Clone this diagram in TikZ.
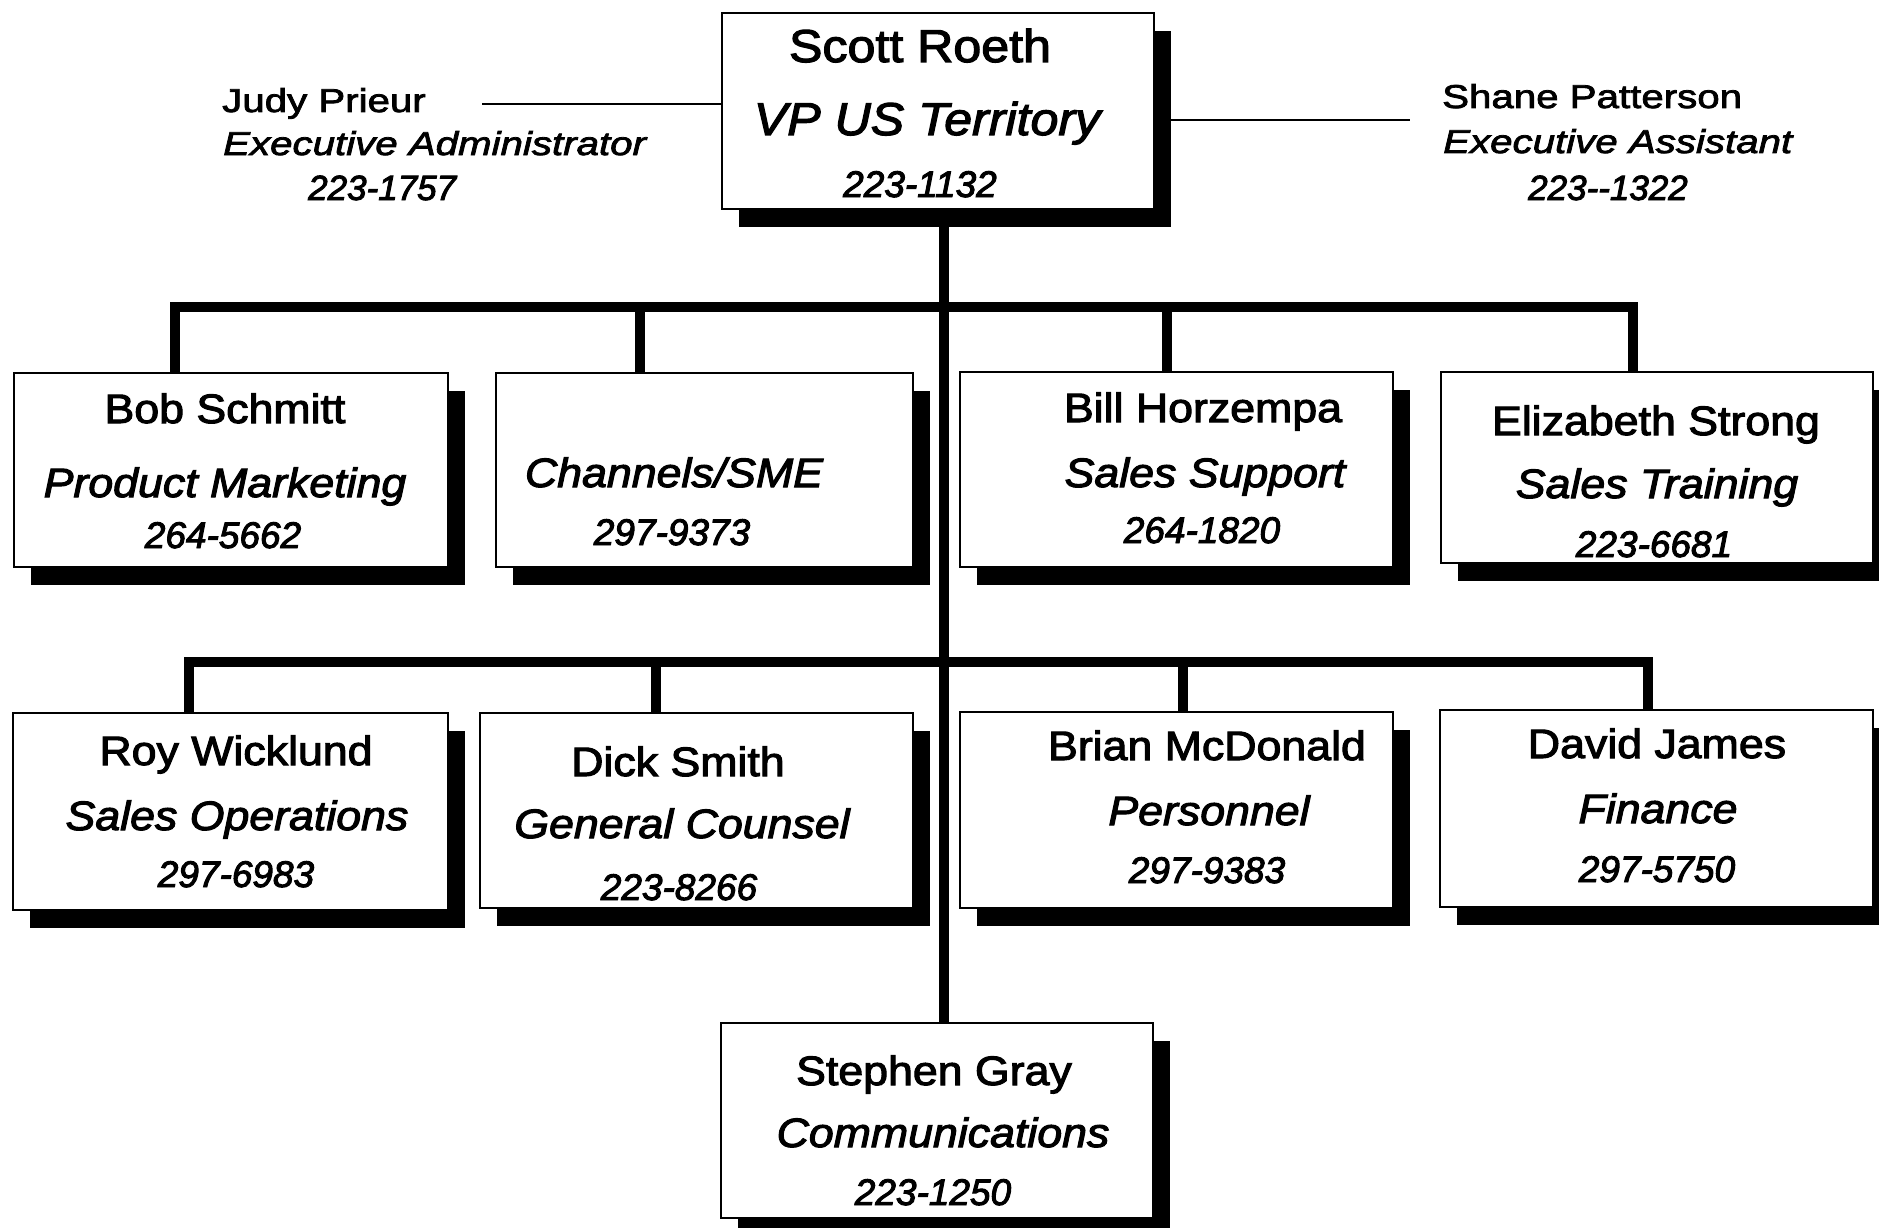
\documentclass[tikz,border=0pt]{standalone}
\usepackage{fontspec}
\usetikzlibrary{shadows}
\newfontfamily\boxfont[FakeStretch=1.09,FakeBold=2.6]{Liberation Sans}
\newfontfamily\sidefont[FakeStretch=1.22,FakeBold=2.4]{Liberation Sans}
\newfontfamily\phonefont[FakeBold=2.6]{Liberation Sans}
\newcommand\OCtopname{\boxfont\fontsize{46}{46}\selectfont}
\newcommand\OCtoptitle{\boxfont\itshape\fontsize{46}{46}\selectfont}
\newcommand\OCname{\boxfont\fontsize{41}{41}\selectfont}
\newcommand\OCtitle{\boxfont\itshape\fontsize{41}{41}\selectfont}
\newcommand\OCphone{\phonefont\itshape\fontsize{37}{37}\selectfont}
\newcommand\OCside{\sidefont\fontsize{33}{33}\selectfont}
\newcommand\OCsideit{\sidefont\itshape\fontsize{33}{33}\selectfont}
\newcommand\OCsidephone{\phonefont\itshape\fontsize{35}{35}\selectfont}
\begin{document}
\begin{tikzpicture}[x=1pt,y=-1pt,
  orgbox/.style={draw=black, line width=2.6pt, fill=white, inner sep=0pt,
    drop shadow={shadow xshift=17pt, shadow yshift=-18pt, fill=black, opacity=1}},
  bus/.style={line width=10pt, line join=miter},
  tie/.style={line width=2pt},
  txt/.style={anchor=base, inner sep=0pt},
  sidetxt/.style={anchor=base west, inner sep=0pt}]
\useasboundingbox[fill=white] (0,0) rectangle (1879,1228);

% connector positions
\coordinate (tk) at (944,307);
\coordinate (a1) at (175,307);
\coordinate (a2) at (640,307);
\coordinate (a3) at (1167,307);
\coordinate (a4) at (1633,307);
\coordinate (b1) at (189,662);
\coordinate (b2) at (656,662);
\coordinate (b3) at (1183,662);
\coordinate (b4) at (1648,662);
\coordinate (jl) at (482,104);
\coordinate (sr) at (1410,120);

% boxes
\node[orgbox, minimum width=432pt, minimum height=196pt] (vp) at (938,111) {};
\node[orgbox, minimum width=434pt, minimum height=194pt] (bob) at (231,470) {};
\node[orgbox, minimum width=417pt, minimum height=194pt] (chan) at (704.5,470) {};
\node[orgbox, minimum width=433pt, minimum height=195pt] (bill) at (1176.5,469.5) {};
\node[orgbox, minimum width=432pt, minimum height=191pt] (eliz) at (1657,467.5) {};
\node[orgbox, minimum width=435pt, minimum height=197pt] (roy) at (230.5,811.5) {};
\node[orgbox, minimum width=433pt, minimum height=195pt] (dick) at (696.5,810.5) {};
\node[orgbox, minimum width=433pt, minimum height=196pt] (brian) at (1176.5,810) {};
\node[orgbox, minimum width=433pt, minimum height=197pt] (david) at (1656.5,808.5) {};
\node[orgbox, minimum width=432pt, minimum height=195pt] (steph) at (937,1120.5) {};

% reporting lines
\draw[bus] (tk |- vp.south) -- (tk |- steph.north);
\draw[bus] (a1 |- bob.north) -- (a1) -- (a4) -- (a4 |- eliz.north);
\draw[bus] (a2) -- (a2 |- chan.north);
\draw[bus] (a3) -- (a3 |- bill.north);
\draw[bus] (b1 |- roy.north) -- (b1) -- (b4) -- (b4 |- david.north);
\draw[bus] (b2) -- (b2 |- dick.north);
\draw[bus] (b3) -- (b3 |- brian.north);

% staff lines
\draw[tie] (jl) -- (jl -| vp.west);
\draw[tie] (sr -| vp.east) -- (sr);

% top box
\node[txt] (vp-n) at (920,62) {\OCtopname Scott Roeth};
\node[txt] (vp-t) at (927,135) {\OCtoptitle VP US Territory};
\node[txt] (vp-p) at (920,197) {\OCphone 223-1132};

% first row
\node[txt] (bob-n) at (225,423) {\OCname Bob Schmitt};
\node[txt] (bob-t) at (225,497) {\OCtitle Product Marketing};
\node[txt] (bob-p) at (223,548) {\OCphone 264-5662};

\node[txt] (chan-t) at (674,487) {\OCtitle Channels/SME};
\node[txt] (chan-p) at (672,545) {\OCphone 297-9373};

\node[txt] (bill-n) at (1203,422) {\OCname Bill Horzempa};
\node[txt] (bill-t) at (1205,487) {\OCtitle Sales Support};
\node[txt] (bill-p) at (1202,543) {\OCphone 264-1820};

\node[txt] (eliz-n) at (1656,435) {\OCname Elizabeth Strong};
\node[txt] (eliz-t) at (1657,498) {\OCtitle Sales Training};
\node[txt] (eliz-p) at (1654,557) {\OCphone 223-6681};

% second row
\node[txt] (roy-n) at (236,765) {\OCname Roy Wicklund};
\node[txt] (roy-t) at (237,830) {\OCtitle Sales Operations};
\node[txt] (roy-p) at (236,887) {\OCphone 297-6983};

\node[txt] (dick-n) at (678,776) {\OCname Dick Smith};
\node[txt] (dick-t) at (682,838) {\OCtitle General Counsel};
\node[txt] (dick-p) at (679,900) {\OCphone 223-8266};

\node[txt] (brian-n) at (1207,760) {\OCname Brian McDonald};
\node[txt] (brian-t) at (1209,825) {\OCtitle Personnel};
\node[txt] (brian-p) at (1207,883) {\OCphone 297-9383};

\node[txt] (david-n) at (1657,758) {\OCname David James};
\node[txt] (david-t) at (1658,823) {\OCtitle Finance};
\node[txt] (david-p) at (1657,882) {\OCphone 297-5750};

% bottom box
\node[txt] (steph-n) at (934,1085) {\OCname Stephen Gray};
\node[txt] (steph-t) at (943,1147) {\OCtitle Communications};
\node[txt] (steph-p) at (933,1205) {\OCphone 223-1250};

% staff
\node[sidetxt] (judy-n) at (222,112) {\OCside Judy Prieur};
\node[sidetxt] (judy-t) at (223,155) {\OCsideit Executive Administrator};
\node[sidetxt] (judy-p) at (308,200) {\OCsidephone 223-1757};

\node[sidetxt] (shane-n) at (1442,108) {\OCside Shane Patterson};
\node[sidetxt] (shane-t) at (1443,153) {\OCsideit Executive Assistant};
\node[sidetxt] (shane-p) at (1528,200) {\OCsidephone 223-\kern0pt-1322};
\end{tikzpicture}
\end{document}
